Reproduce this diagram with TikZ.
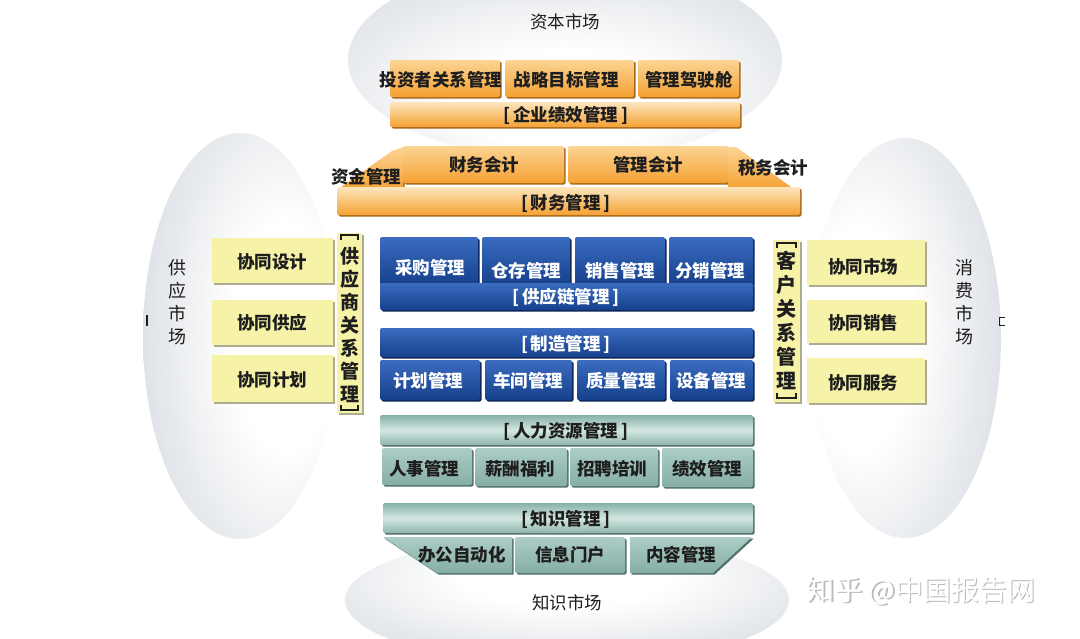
\documentclass[tikz,border=0pt]{standalone}
\usepackage{fontspec}
\setmainfont{Noto Sans CJK SC}
\definecolor{oT}{HTML}{FCD494}
\definecolor{oB}{HTML}{F5A132}
\definecolor{oS}{HTML}{A8681C}
\definecolor{obT}{HTML}{FDE6BE}
\definecolor{bT}{HTML}{3B6CC0}
\definecolor{bB}{HTML}{15408C}
\definecolor{bS}{HTML}{0B2556}
\definecolor{tT}{HTML}{86B1A8}
\definecolor{tM}{HTML}{D3E6E1}
\definecolor{tB}{HTML}{8FB6AD}
\definecolor{tbT}{HTML}{ABCDC5}
\definecolor{tbB}{HTML}{86AEA5}
\definecolor{tS}{HTML}{4F7169}
\definecolor{yF}{HTML}{F6F2A8}
\definecolor{yS}{HTML}{AEAC90}
\definecolor{bgD}{HTML}{D3D8DE}
\definecolor{txD}{HTML}{1E1E1E}
\pgfdeclareradialshading{fadeL}{\pgfpoint{15bp}{0bp}}{color(0bp)=(white); color(14bp)=(white); color(40bp)=(bgD); color(70bp)=(bgD)}
\pgfdeclareradialshading{fadeR}{\pgfpoint{-15bp}{0bp}}{color(0bp)=(white); color(14bp)=(white); color(40bp)=(bgD); color(70bp)=(bgD)}
\pgfdeclareradialshading{fadeT}{\pgfpoint{0bp}{-12bp}}{color(0bp)=(white); color(12bp)=(white); color(38bp)=(bgD); color(70bp)=(bgD)}
\pgfdeclareradialshading{fadeB}{\pgfpoint{0bp}{12bp}}{color(0bp)=(white); color(12bp)=(white); color(38bp)=(bgD); color(70bp)=(bgD)}
\begin{document}
\begin{tikzpicture}[x=1pt,y=-1pt,
  lbl/.style={inner sep=0pt, font=\fontsize{17.5}{20}\selectfont\bfseries, text=txD},
  wl/.style={lbl, text=white},
  mkt/.style={inner sep=0pt, font=\fontsize{17.5}{20}\selectfont, text=txD},
  vlbl/.style={inner sep=0pt, align=center, text=txD},
  sh/.style={preaction={fill=#1, transform canvas={shift={(1.6pt,-1.6pt)}}}},
  obox/.style={sh=oS, top color=oT, bottom color=oB, rounded corners=2pt},
  obar/.style={sh=oS, top color=obT, bottom color=oB, rounded corners=2pt},
  bbox/.style={sh=bS, top color=bT, bottom color=bB, rounded corners=2pt},
  tbar/.style={sh=tS, top color=tT, bottom color=tB, middle color=tM, rounded corners=2pt},
  tbox/.style={sh=tS, top color=tbT, bottom color=tbB, rounded corners=2pt},
  ybox/.style={sh=yS, fill=yF},
  brk/.style={line width=1.2pt, draw=txD},
]
\useasboundingbox (0,0) rectangle (1080,638);
\fill[white] (0,0) rectangle (1080,638);
% background ellipses
\path[shading=fadeL] (240,336) ellipse [x radius=97, y radius=203];
\path[shading=fadeR] (905,338) ellipse [x radius=96, y radius=200];
\path[shading=fadeT] (565,60) ellipse [x radius=217, y radius=100];
\path[shading=fadeB] (567,600) ellipse [x radius=222, y radius=65];
\draw[line width=1.3pt, draw=txD] (147,315) -- (147,326);
\draw[line width=1pt, draw=txD] (1005,317) -- (999,317) -- (999,325) -- (1005,325);
% markets
\node[mkt] (cap) at (565,22) {资本市场};
\node[mkt] (kno) at (567,603) {知识市场};
\node[vlbl, font=\fontsize{18}{23}\selectfont] (sup) at (177,302) {供\\应\\市\\场};
\node[vlbl, font=\fontsize{18}{23}\selectfont] (con) at (964,302) {消\\费\\市\\场};
% orange top
\path[obox] (390,60) rectangle (500,97);
\path[obox] (505,60) rectangle (634,97);
\path[obox] (638,60) rectangle (739,97);
\path[obar] (390,102) rectangle (740,127);
\node[lbl] (ir) at (441,80) {投资者关系管理};
\node[lbl] (st) at (566,80) {战略目标管理};
\node[lbl] (ck) at (689,80) {管理驾驶舱};
\node[lbl] (epm) at (566,115) {[\,企业绩效管理\,]};
% finance
\path[obox, sharp corners] (337,190) -- (392,151) -- (403,147) -- (403,190) -- cycle;
\path[obox] (403,146) rectangle (564,183);
\path[obox] (568,146) rectangle (728,183);
\path[obox, sharp corners] (728,147) -- (736,147) -- (795,190) -- (728,190) -- cycle;
\path[obar] (337,187) rectangle (800,215);
\node[lbl] (cash) at (366,177) {资金管理};
\node[lbl] (fa) at (484,165) {财务会计};
\node[lbl] (ma) at (648,165) {管理会计};
\node[lbl] (ta) at (773,168) {税务会计};
\node[lbl] (fm) at (566,203) {[\,财务管理\,]};
% blue
\path[bbox] (380,237) rectangle (478,285);
\path[bbox] (482,237) rectangle (570,285);
\path[bbox] (575,237) rectangle (665,285);
\path[bbox] (669,237) rectangle (753,285);
\path[bbox] (380,283) rectangle (753,310);
\node[wl] (pur) at (430,268) {采购管理};
\node[wl] (inv) at (526,271) {仓存管理};
\node[wl] (sal) at (620,271) {销售管理};
\node[wl] (dis) at (710,271) {分销管理};
\node[wl] (scm) at (566,297) {[\,供应链管理\,]};
\path[bbox] (380,328) rectangle (753,357);
\path[bbox] (380,360) rectangle (480,400);
\path[bbox] (485,360) rectangle (572,400);
\path[bbox] (577,360) rectangle (665,400);
\path[bbox] (670,360) rectangle (753,400);
\node[wl] (mfg) at (566,344) {[\,制造管理\,]};
\node[wl] (pln) at (428,381) {计划管理};
\node[wl] (shp) at (528,381) {车间管理};
\node[wl] (qua) at (621,381) {质量管理};
\node[wl] (eqp) at (711,381) {设备管理};
% teal
\path[tbar] (380,415) rectangle (753,445);
\path[tbox] (382,448) rectangle (472,485);
\path[tbox] (475,448) rectangle (567,486);
\path[tbox] (570,448) rectangle (658,486);
\path[tbox] (662,448) rectangle (753,487);
\node[lbl] (hr) at (566,431) {[\,人力资源管理\,]};
\node[lbl] (per) at (424,469) {人事管理};
\node[lbl] (pay) at (520,469) {薪酬福利};
\node[lbl] (rec) at (612,469) {招聘培训};
\node[lbl] (kpi) at (707,469) {绩效管理};
\path[tbar] (383,503) rectangle (753,533);
\path[tbox, sharp corners] (383,537) -- (512,537) -- (512,573) -- (437,573) -- cycle;
\path[tbox] (515,537) rectangle (625,573);
\path[tbox, sharp corners] (630,537) -- (752,537) -- (713,573) -- (630,573) -- cycle;
\node[lbl] (km) at (566,519) {[\,知识管理\,]};
\node[lbl] (oa) at (462,555) {办公自动化};
\node[lbl] (por) at (570,555) {信息门户};
\node[lbl] (cms) at (681,555) {内容管理};
% yellow left
\path[ybox] (212,238) rectangle (333,283);
\path[ybox] (212,300) rectangle (333,345);
\path[ybox] (212,355) rectangle (333,402);
\path[ybox] (337,233) rectangle (362,413);
\node[lbl] (cd) at (272,262) {协同设计};
\node[lbl] (cs) at (272,323) {协同供应};
\node[lbl] (cp) at (272,380) {协同计划};
\node[vlbl, font=\fontsize{19}{23}\selectfont\bfseries] (srm) at (349.5,325) {供\\应\\商\\关\\系\\管\\理};
\draw[brk] (341,240) -- (341,235) -- (358,235) -- (358,240);
\draw[brk] (341,405) -- (341,410) -- (358,410) -- (358,405);
% yellow right
\path[ybox] (773,240) rectangle (800,402);
\path[ybox] (807,240) rectangle (925,285);
\path[ybox] (807,300) rectangle (925,343);
\path[ybox] (807,358) rectangle (925,403);
\node[vlbl, font=\fontsize{20}{24}\selectfont\bfseries] (crm) at (786.5,320.5) {客\\户\\关\\系\\管\\理};
\draw[brk] (777,248) -- (777,243) -- (796,243) -- (796,248);
\draw[brk] (777,393) -- (777,398) -- (796,398) -- (796,393);
\node[lbl] (cmk) at (863,267) {协同市场};
\node[lbl] (csl) at (863,323) {协同销售};
\node[lbl] (csv) at (863,383) {协同服务};
% watermark
\node[inner sep=0pt, font=\fontsize{28}{30}\selectfont, text=gray!55] (wms) at (922.5,592.5) {知乎 @中国报告网};
\node[inner sep=0pt, font=\fontsize{28}{30}\selectfont, text=white] (wm) at (921,591) {知乎 @中国报告网};
\end{tikzpicture}
\end{document}
